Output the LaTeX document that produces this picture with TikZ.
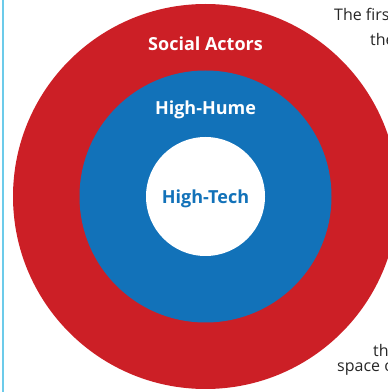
\documentclass[tikz,border=0pt]{standalone}
\usepackage{fontspec}
\setmainfont{Open Sans}
\definecolor{ringred}{HTML}{CC1F26}
\definecolor{ringblue}{HTML}{1272B9}
\definecolor{edgecyan}{HTML}{6CCBEA}

\begin{document}
\begin{tikzpicture}[x=1pt,y=1pt,
    ringlabel/.style={anchor=base,font=\bfseries\fontsize{18}{21}\selectfont},
    sidetext/.style={anchor=base west,text=black!85,inner sep=0pt,font=\fontsize{16}{19}\selectfont}]
  \useasboundingbox (0,0) rectangle (388,392);
  \coordinate (O) at (205.5,195.5);

  \fill[ringred] (O) circle (192.5);
  \fill[ringblue] (O) circle (126);
  \fill[white] (O) circle (59.5);

  \draw[edgecyan,line width=1.2pt] (3,0) coordinate (E1) -- (3,392) coordinate (E2);

  \node[ringlabel,text=white] (social) at (205.5,341) {Social Actors};
  \node[ringlabel,text=white] (hume) at (205.5,277) {High-Hume};
  \node[ringlabel,text=ringblue] (tech) at (205.5,188) {High-Tech};

  \node[sidetext] (first) at (334,371) {The firs};
  \node[sidetext] (the) at (370,346) {the};
  \node[sidetext] (th) at (373,35) {th};
  \node[sidetext] (space) at (337,20) {space o};
\end{tikzpicture}
\end{document}
